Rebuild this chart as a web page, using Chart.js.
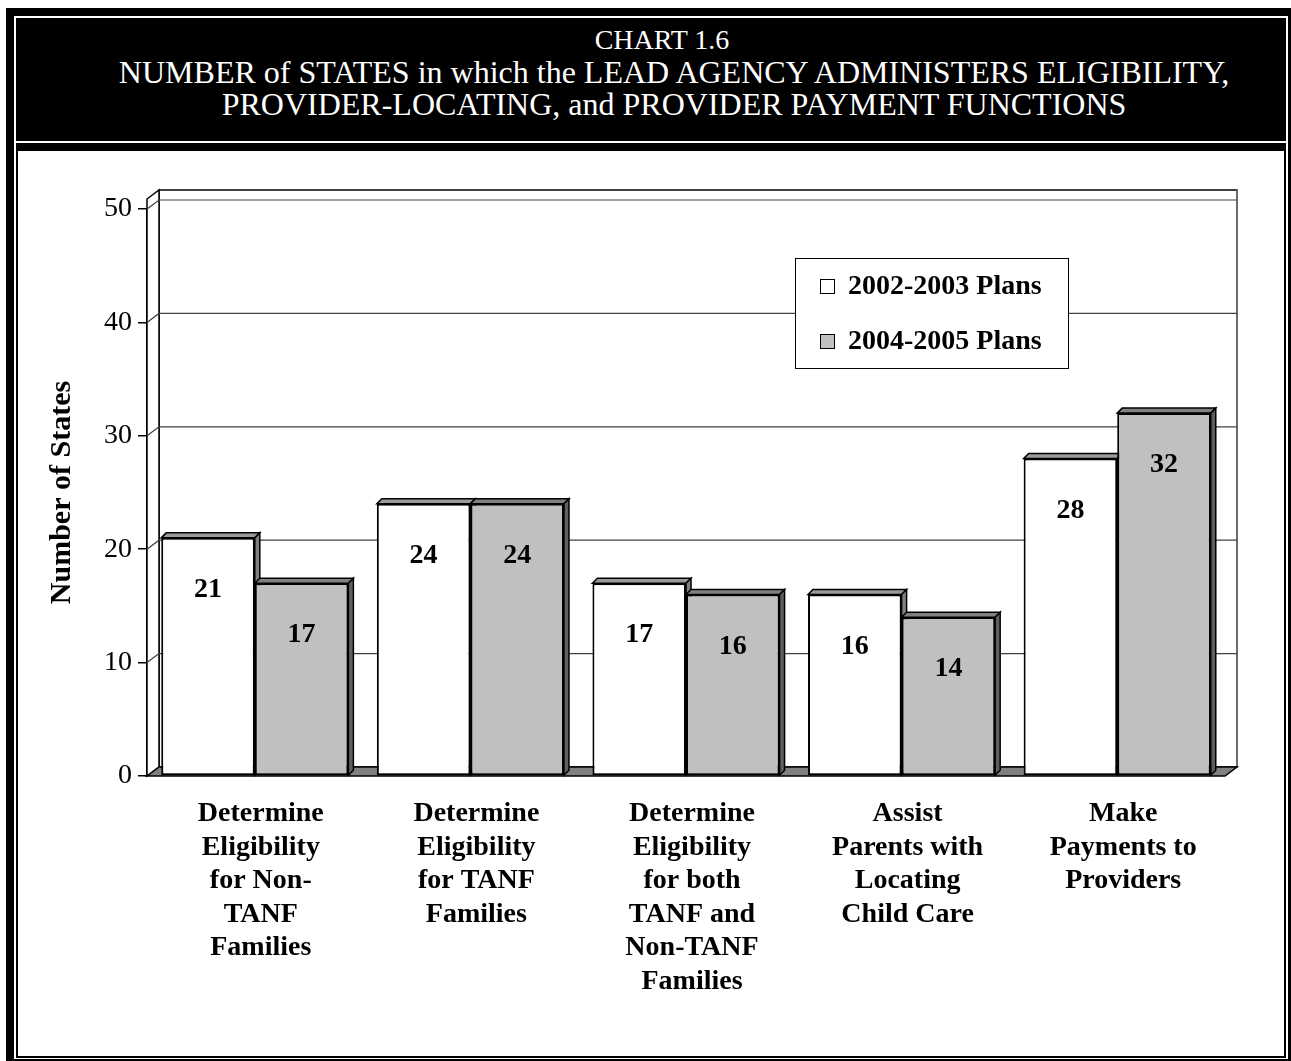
<!DOCTYPE html>
<html>
<head>
<meta charset="utf-8">
<script src="https://cdn.jsdelivr.net/npm/chart.js@4"></script>
<style>
  body { margin: 0; background: #fff; }
  .box { position: absolute; }
  #header {
    position: absolute; left: 18px; top: 18px; width: 1266px; height: 123px;
    color: #fff; font-family: "Liberation Serif", "Times New Roman", serif;
    font-size: 32px; line-height: 32px; text-align: center;
    padding-top: 6px; padding-left: 46px; box-sizing: border-box;
  }
  #header span { display: block; white-space: nowrap; height: 32px; }
  #header .l1 { margin-left: -24px; font-size: 28px; }
  #wrap { position: absolute; left: 18px; top: 151px; width: 1266px; height: 905px; background: #fff; }
</style>
</head>
<body>
<div class="box" style="left:6px;top:8px;width:1285px;height:1053px;background:#000"></div>
<div class="box" style="left:14px;top:16px;width:1274px;height:1043px;background:#fff"></div>
<div class="box" style="left:16px;top:18px;width:1270px;height:1040px;background:#000"></div>
<div class="box" style="left:16px;top:141px;width:1270px;height:2px;background:#fff"></div>
<div id="header"><span class="l1">CHART 1.6</span><span>NUMBER of STATES in which the LEAD AGENCY ADMINISTERS ELIGIBILITY,</span><span>PROVIDER-LOCATING, and PROVIDER PAYMENT FUNCTIONS</span></div>
<div id="wrap"><canvas id="chart" width="1266" height="905"></canvas></div>
<script>
const categories = [
  ["Determine", "Eligibility", "for Non-", "TANF", "Families"],
  ["Determine", "Eligibility", "for TANF", "Families"],
  ["Determine", "Eligibility", "for both", "TANF and", "Non-TANF", "Families"],
  ["Assist", "Parents with", "Locating", "Child Care"],
  ["Make", "Payments to", "Providers"]
];
const plans2002 = [21, 24, 17, 16, 28];
const plans2004 = [17, 24, 16, 14, 32];
const seriesNames = ["2002-2003 Plans", "2004-2005 Plans"];
const yMin = 0, yMax = 50, yStep = 10;

const serif = "'Liberation Serif', 'Times New Roman', serif";
const wall = { dx: 12, dy: -9, ext: 10 };
const barDepth = 5;
const faceColors = [
  { top: "#9a9a9a", side: "#808080" },
  { top: "#808080", side: "#5f5f5f" }
];

function poly(ctx, pts, fill, stroke, lw) {
  ctx.beginPath();
  ctx.moveTo(pts[0][0], pts[0][1]);
  for (let i = 1; i < pts.length; i++) ctx.lineTo(pts[i][0], pts[i][1]);
  ctx.closePath();
  if (fill) { ctx.fillStyle = fill; ctx.fill(); }
  if (stroke) { ctx.strokeStyle = stroke; ctx.lineWidth = lw || 1; ctx.stroke(); }
}

// walls, floor, gridlines and the top/side faces of the bars
const depthPlugin = {
  id: "depth",
  beforeDatasetsDraw(chart) {
    const ctx = chart.ctx;
    const { left: L, right: R, top: T, bottom: B } = chart.chartArea;
    const y = chart.scales.y;
    const dx = wall.dx, dy = wall.dy, top = T - wall.ext;
    ctx.save();
    ctx.fillStyle = "#fff";
    ctx.fillRect(L, top + dy - 2, R - L + dx + 2, B - top + 4);
    poly(ctx, [[L + dx, top + dy], [R + dx, top + dy], [R + dx, B + dy], [L + dx, B + dy]], "#fff", "#000", 1.5);
    ctx.strokeStyle = "#7a7a7a"; ctx.lineWidth = 1.5;
    ctx.beginPath(); ctx.moveTo(R + dx, top + dy); ctx.lineTo(R + dx, B + dy); ctx.stroke();
    poly(ctx, [[L, top], [L + dx, top + dy], [L + dx, B + dy], [L, B]], "#fff", "#000", 1.5);
    ctx.strokeStyle = "#404040"; ctx.lineWidth = 1.2;
    for (let v = yMin + yStep; v <= yMax; v += yStep) {
      const py = y.getPixelForValue(v);
      ctx.beginPath();
      ctx.moveTo(L, py); ctx.lineTo(L + dx, py + dy); ctx.lineTo(R + dx, py + dy);
      ctx.stroke();
    }
    poly(ctx, [[L, B], [L + dx, B + dy], [R + dx, B + dy], [R, B]], "#808080", "#000", 1.5);

    const d = barDepth;
    chart.data.datasets.forEach((ds, i) => {
      chart.getDatasetMeta(i).data.forEach(bar => {
        const l = bar.x - bar.width / 2, r = bar.x + bar.width / 2;
        poly(ctx, [[l, bar.y], [l + d, bar.y - d], [r + d, bar.y - d], [r, bar.y]], faceColors[i].top, "#000", 1.5);
        poly(ctx, [[r, bar.y], [r + d, bar.y - d], [r + d, bar.base - d], [r, bar.base]], faceColors[i].side, "#000", 1.5);
      });
    });
    ctx.restore();
  },
  afterDatasetsDraw(chart) {
    const ctx = chart.ctx;
    ctx.save();
    ctx.fillStyle = "#000";
    ctx.font = "bold 28px " + serif;
    ctx.textAlign = "center";
    ctx.textBaseline = "middle";
    chart.data.datasets.forEach((ds, i) => {
      chart.getDatasetMeta(i).data.forEach((bar, j) => {
        ctx.fillText(String(ds.data[j]), bar.x, bar.y + 52);
      });
    });
    ctx.restore();
  },
  afterDraw(chart) {
    const ctx = chart.ctx;
    const { left: L, top: T } = chart.chartArea;
    const bx = L + 648, by = T + 49, bw = 273, bh = 110;
    ctx.save();
    ctx.fillStyle = "#fff";
    ctx.fillRect(bx, by, bw, bh);
    ctx.strokeStyle = "#000"; ctx.lineWidth = 1;
    ctx.strokeRect(bx + 0.5, by + 0.5, bw, bh);
    ctx.font = "bold 28px " + serif;
    ctx.textBaseline = "middle";
    ctx.textAlign = "left";
    chart.data.datasets.forEach((ds, i) => {
      const cy = by + 28 + i * 55;
      ctx.fillStyle = ds.backgroundColor;
      ctx.fillRect(bx + 25, cy - 7, 15, 15);
      ctx.strokeRect(bx + 25.5, cy - 6.5, 14, 14);
      ctx.fillStyle = "#000";
      ctx.fillText(ds.label, bx + 53, cy + 1);
    });
    ctx.restore();
  }
};

new Chart(document.getElementById("chart"), {
  type: "bar",
  data: {
    labels: categories,
    datasets: [
      {
        label: seriesNames[0], data: plans2002,
        backgroundColor: "#ffffff", borderColor: "#000", borderWidth: 2, borderSkipped: false,
        categoryPercentage: 0.868, barPercentage: 1.0
      },
      {
        label: seriesNames[1], data: plans2004,
        backgroundColor: "#c0c0c0", borderColor: "#000", borderWidth: 2, borderSkipped: false,
        categoryPercentage: 0.868, barPercentage: 1.0
      }
    ]
  },
  options: {
    responsive: false,
    animation: false,
    events: [],
    layout: { padding: { left: 0, right: 59, top: 58, bottom: 0 } },
    plugins: { legend: { display: false }, tooltip: { enabled: false } },
    scales: {
      x: {
        grid: { display: false },
        border: { display: false },
        ticks: {
          color: "#000", padding: 13, labelOffset: 6, maxRotation: 0, autoSkip: false,
          font: { family: serif, size: 28, weight: "bold", lineHeight: 1.2 }
        },
        afterFit(scale) { scale.height = 280; }
      },
      y: {
        min: yMin, max: yMax,
        grid: { display: true, drawOnChartArea: false, drawTicks: true, tickLength: 9, color: "#000", lineWidth: 1.5 },
        border: { display: true, color: "#000", width: 1.5 },
        ticks: {
          stepSize: yStep, color: "#000", padding: 6,
          font: { family: serif, size: 28 }
        },
        title: {
          display: true, text: "Number of States", color: "#000",
          padding: { top: 26, bottom: 0 },
          font: { family: serif, size: 30, weight: "bold", lineHeight: 1.2 }
        },
        afterFit(scale) { scale.width = 129; }
      }
    }
  },
  plugins: [depthPlugin]
});
</script>
</body>
</html>
